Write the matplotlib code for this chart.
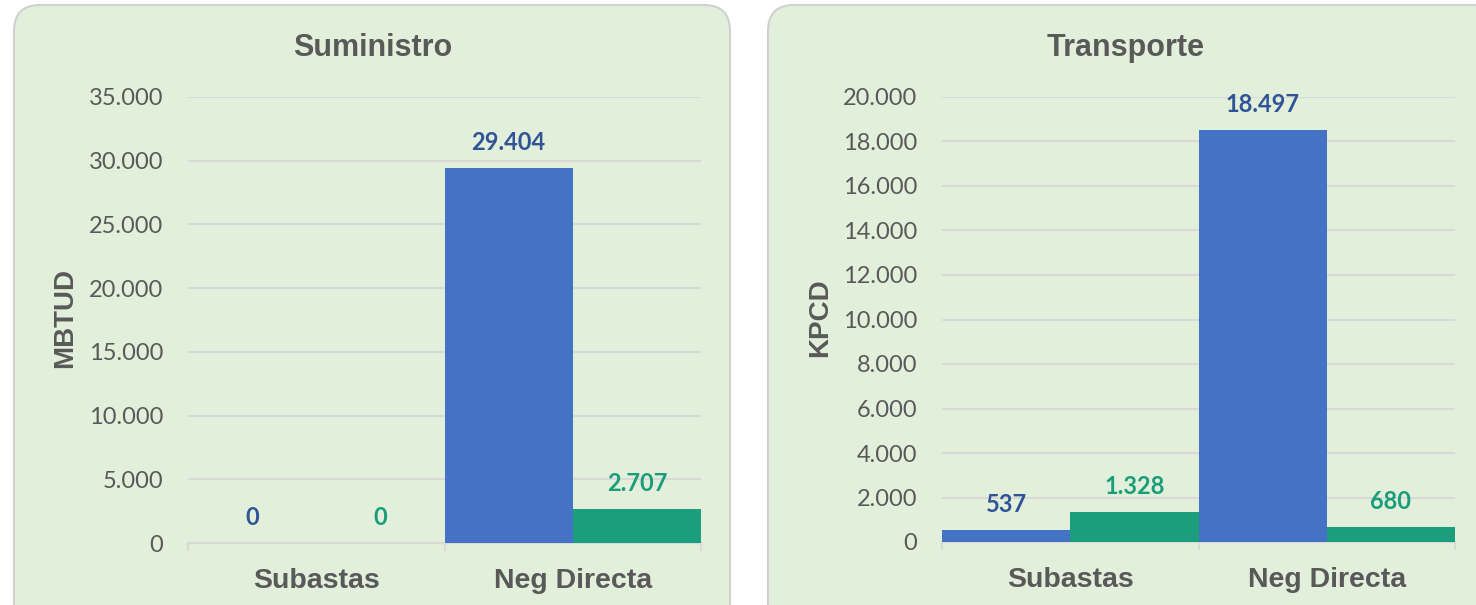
import matplotlib
matplotlib.use("Agg")
import matplotlib.pyplot as plt
from matplotlib.patches import FancyBboxPatch
from matplotlib.ticker import FuncFormatter, MultipleLocator
import numpy as np

categories = ["Subastas", "Neg Directa"]
sum_blue = [0, 29404]
sum_green = [0, 2707]
trans_blue = [537, 18497]
trans_green = [1328, 680]
titles = ["Suministro", "Transporte"]
ylabels = ["MBTUD", "KPCD"]
ymax = [35000, 20000]
ystep = [5000, 2000]

BLUE = "#4472C4"
GREEN = "#1B9E7C"
BLUE_T = "#2F5597"
GREEN_T = "#1A9E7A"
GREY = "#595959"
PANEL = "#E2EFDA"
GRID = "#D9D9D9"

W, H = 1476, 605
fig = plt.figure(figsize=(W / 100, H / 100), dpi=100)
fig.patch.set_facecolor("white")

def fx(x):
    return x / W

def fy(y):
    return 1 - y / H

PX = 72 / 100  # points per pixel

# background panels in pixel coordinates
bg = fig.add_axes([0, 0, 1, 1], zorder=-5)
bg.set_xlim(0, W)
bg.set_ylim(H, 0)
bg.axis("off")
for (x0, x1) in [(14, 730), (768, 1500)]:
    p = FancyBboxPatch((x0, 5), x1 - x0, 640,
                       boxstyle="round,pad=0,rounding_size=26",
                       facecolor=PANEL, edgecolor="#D0D0D0", linewidth=1.5)
    bg.add_patch(p)

def fmt(v, pos=None):
    return f"{int(round(v)):,}".replace(",", ".")

SANS = ["Liberation Sans", "DejaVu Sans"]
NUM = ["Lato", "DejaVu Sans"]

specs = [
    (188, 701, 97, 543, sum_blue, sum_green, 0, 65, 373),
    (942, 1455, 97, 542, trans_blue, trans_green, 1, 820, 1126),
]

for (xl, xr, yt, yb, blue, green, i, ylx, tx) in specs:
    ax = fig.add_axes([fx(xl), fy(yb), fx(xr - xl), (yb - yt) / H])
    ax.set_facecolor("none")
    x = np.arange(len(categories))
    w = 0.5
    ax.bar(x - w / 2, blue, width=w, color=BLUE, zorder=3)
    ax.bar(x + w / 2, green, width=w, color=GREEN, zorder=3)
    ax.set_xlim(-0.5, len(categories) - 0.5)
    ax.set_ylim(0, ymax[i])
    ax.yaxis.set_major_locator(MultipleLocator(ystep[i]))
    ax.yaxis.set_major_formatter(FuncFormatter(fmt))
    ax.grid(axis="y", color=GRID, linewidth=1.5, zorder=1)
    for s in ["top", "right", "left"]:
        ax.spines[s].set_visible(False)
    ax.spines["bottom"].set_color(GRID)
    ax.spines["bottom"].set_linewidth(1.5)
    ax.tick_params(axis="y", length=0, pad=25 * PX, labelsize=17, labelcolor=GREY)
    for t in ax.get_yticklabels():
        t.set_family(NUM)
    ax.set_xticks(np.arange(-0.5, len(categories)), minor=False)
    ax.set_xticklabels([])
    ax.tick_params(axis="x", which="major", length=8 * PX, width=1.5, color=GRID)
    ax.set_xticks(x, minor=True)
    ax.set_xticklabels(categories, minor=True)
    ax.tick_params(axis="x", which="minor", length=0, pad=25 * PX, labelsize=20.5,
                   labelcolor=GREY)
    for t in ax.get_xticklabels(minor=True):
        t.set_fontweight("bold")
        t.set_family(SANS)
    for xs, vals, col in [(x - w / 2, blue, BLUE_T), (x + w / 2, green, GREEN_T)]:
        for xi, v in zip(xs, vals):
            ax.annotate(fmt(v), (xi, v), xytext=(0, 18 * PX),
                        textcoords="offset points", ha="center", va="baseline",
                        color=col, fontsize=17, fontweight="bold", family=NUM,
                        zorder=5)
    fig.text(fx(ylx), fy((yt + yb) / 2 - 2), ylabels[i], rotation=90, ha="center",
             va="center", fontsize=20, fontweight="bold", color=GREY, family=SANS)
    fig.text(fx(tx), fy(56), titles[i], ha="center", va="baseline", fontsize=22,
             fontweight="bold", color=GREY, family=SANS)

fig.savefig("out.png", dpi=100, facecolor="white")
